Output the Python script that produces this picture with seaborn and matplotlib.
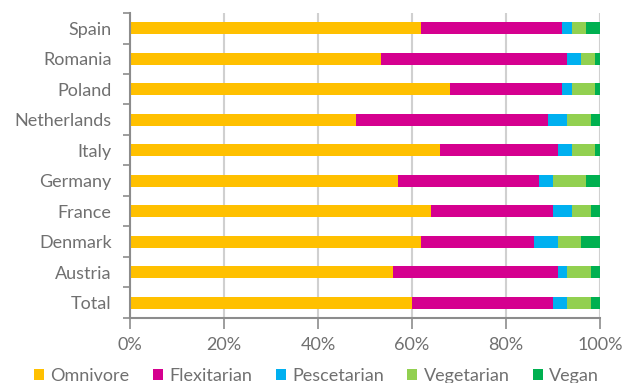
import matplotlib
matplotlib.use("Agg")
import matplotlib.pyplot as plt
import seaborn as sns
import pandas as pd
import numpy as np
from matplotlib.patches import Patch

countries = ["Spain", "Romania", "Poland", "Netherlands", "Italy",
             "Germany", "France", "Denmark", "Austria", "Total"]
omnivore    = [62, 53.5, 68, 48, 66, 57, 64, 62, 56, 60]
flexitarian = [30, 39.5, 24, 41, 25, 30, 26, 24, 35, 30]
pescetarian = [2, 3, 2, 4, 3, 3, 4, 5, 2, 3]
vegetarian  = [3, 3, 5, 5, 5, 7, 4, 5, 5, 5]
vegan       = [3, 1, 1, 2, 1, 3, 2, 4, 2, 2]
series_names = ["Omnivore", "Flexitarian", "Pescetarian", "Vegetarian", "Vegan"]
colors = ["#FFC000", "#D5008F", "#00B0F0", "#92D050", "#00B050"]
xticks = [0, 20, 40, 60, 80, 100]
xticklabels = ["0%", "20%", "40%", "60%", "80%", "100%"]

sns.set_theme(style="white")
plt.rcParams["font.family"] = ["Lato", "DejaVu Sans"]

df = pd.DataFrame({"Country": countries, "Omnivore": omnivore, "Flexitarian": flexitarian,
                   "Pescetarian": pescetarian, "Vegetarian": vegetarian, "Vegan": vegan})
cum = df[series_names].cumsum(axis=1)
cum["Country"] = df["Country"]

fig = plt.figure(figsize=(6.27, 3.83), dpi=100)
ax = fig.add_axes([0.207, 0.170, 0.750, 0.796])

for name, col in reversed(list(zip(series_names, colors))):
    sns.barplot(data=cum, x=name, y="Country", color=col, orient="h",
                width=0.4, ax=ax, saturation=1, order=countries, linewidth=0)

ax.set_xlim(0, 100)
ax.set_ylim(len(countries) - 0.5, -0.5)
ax.set_xticks(xticks)
ax.set_xticklabels(xticklabels)
ax.set_xlabel("")
ax.set_ylabel("")
ax.grid(axis="x", color="#d0d0d0", linewidth=1.5, zorder=0)
ax.set_axisbelow(True)

for s in ["top", "right"]:
    ax.spines[s].set_visible(False)
for s in ["left", "bottom"]:
    ax.spines[s].set_color("#8c8c8c")
    ax.spines[s].set_linewidth(1.5)

txtcol = "#707070"
ax.tick_params(axis="x", direction="out", length=8, width=1.2, color="#8c8c8c",
               labelsize=13, labelcolor=txtcol, pad=6, bottom=True)
ax.tick_params(axis="y", which="major", length=0, labelsize=13, labelcolor=txtcol, pad=13)
ax.set_yticks(np.arange(-0.5, len(countries), 1), minor=True)
ax.tick_params(axis="y", which="minor", direction="out", length=5, width=1.2,
               color="#8c8c8c", left=True)

handles = [Patch(facecolor=c, edgecolor="none", label=n) for n, c in zip(series_names, colors)]
fig.legend(handles=handles, loc="lower center", ncol=5, frameon=False,
           bbox_to_anchor=(0.505, -0.045), fontsize=13, labelcolor=txtcol,
           handlelength=0.55, handleheight=0.55, handletextpad=0.35, columnspacing=1.3)

fig.savefig("out.png", dpi=100)
